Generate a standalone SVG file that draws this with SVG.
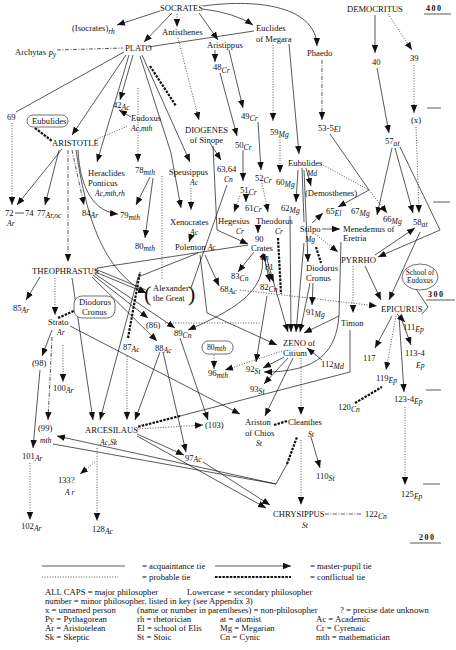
<svg xmlns="http://www.w3.org/2000/svg" width="456" height="650" viewBox="0 0 456 650">
<style>
text{font-family:"Liberation Serif","Times New Roman",serif;font-size:8.6px;fill:#111}
.i{font-style:italic;font-size:7.6px}
.lg{font-size:8.7px}
.b{font-weight:bold;letter-spacing:1.5px;font-size:8px}
.e{fill:none;stroke:#111;stroke-width:0.7}
.dot{stroke-dasharray:1 1.6}
.dd{stroke-dasharray:4 1.5 1 1.5}
.cf{stroke-width:2.2;stroke-dasharray:2.5 1.2}
.a{marker-end:url(#ah)}
.box{fill:#fff;stroke:#111;stroke-width:0.6}
</style>
<defs>
<marker id="ah" markerUnits="userSpaceOnUse" markerWidth="9" markerHeight="7" refX="8" refY="3.25" orient="auto"><path d="M0,0 L8,3.25 L0,6.5 z" fill="#111"/></marker>
</defs>
<rect width="456" height="650" fill="#fff"/>
<g id="edges">
<line class="e a" x1="160" y1="11" x2="117" y2="25"/>
<line class="e a" x1="172" y1="13" x2="144" y2="42"/>
<line class="e dot a" x1="177" y1="14" x2="177" y2="27"/>
<path class="e a" d="M203,9 Q235,13 253,25"/>
<path class="e a" d="M203,6 C262,-2 316,8 317,46"/>
<line class="e a" x1="199" y1="13" x2="218" y2="40"/>
<line class="e" x1="148" y1="47" x2="254" y2="31"/>
<line class="e dd" x1="57" y1="50" x2="123" y2="48"/>
<line class="e" x1="124" y1="52" x2="16" y2="112"/>
<line class="e a" x1="126" y1="55" x2="72" y2="135"/>
<line class="e a" x1="133" y1="55" x2="120" y2="100"/>
<line class="e a" x1="131" y1="117" x2="119" y2="110"/>
<line class="e a" x1="129" y1="55" x2="97" y2="162"/>
<line class="e cf" x1="150" y1="66" x2="176" y2="106"/>
<line class="e a" x1="142" y1="55" x2="190" y2="162"/>
<path class="e a" d="M140,56 L171,153 L181,208"/>
<line class="e dot a" x1="191" y1="188" x2="191" y2="210"/>
<line class="e a" x1="191" y1="236" x2="189" y2="242"/>
<line class="e dot a" x1="178" y1="38" x2="199" y2="120"/>
<line class="e a" x1="210" y1="143" x2="221" y2="160"/>
<path class="e a" d="M213,146 L217,230 L248,244"/>
<line class="e" x1="227" y1="185" x2="191" y2="288"/>
<line class="e dot a" x1="138" y1="88" x2="138" y2="162"/>
<line class="e dot" x1="162" y1="176" x2="162" y2="280"/>
<line class="e dot" x1="95" y1="140" x2="128" y2="126"/>
<line class="e cf" x1="35" y1="128" x2="52" y2="141"/>
<line class="e dot a" x1="12" y1="123" x2="12" y2="205"/>
<line class="e a" x1="62" y1="149" x2="17" y2="205"/>
<line class="e a" x1="59" y1="150" x2="45" y2="205"/>
<line class="e dd a" x1="72" y1="150" x2="84" y2="205"/>
<path class="e a" d="M78,150 C80,190 95,212 118,214"/>
<line class="e dd a" x1="68" y1="150" x2="68" y2="262"/>
<path class="e a" d="M76,150 C88,230 108,272 146,293"/>
<line class="e a" x1="150" y1="177" x2="136" y2="205"/>
<line class="e a" x1="153" y1="178" x2="145" y2="238"/>
<line class="e a" x1="40" y1="277" x2="26" y2="300"/>
<line class="e dot a" x1="55" y1="278" x2="55" y2="315"/>
<line class="e a" x1="93" y1="275" x2="148" y2="318"/>
<line class="e a" x1="92" y1="277" x2="157" y2="341"/>
<line class="e a" x1="95" y1="274" x2="175" y2="328"/>
<line class="e a" x1="95" y1="272" x2="146" y2="293"/>
<line class="e" x1="95" y1="269" x2="146" y2="290"/>
<line class="e" x1="97" y1="268" x2="248" y2="245"/>
<line class="e a" x1="72" y1="278" x2="93" y2="420"/>
<path class="e a" d="M198,253 L138,277 L100,420"/>
<line class="e cf" x1="128" y1="338" x2="140" y2="272"/>
<line class="e dot a" x1="127" y1="356" x2="127" y2="420"/>
<line class="e a" x1="160" y1="352" x2="135" y2="420"/>
<line class="e a" x1="163" y1="352" x2="186" y2="452"/>
<line class="e a" x1="180" y1="338" x2="208" y2="420"/>
<path class="e a" d="M262,255 C268,292 230,312 188,330"/>
<path class="e a" d="M200,255 L207,313 L277,345"/>
<line class="e a" x1="205" y1="255" x2="219" y2="286"/>
<line class="e a" x1="254" y1="252" x2="238" y2="272"/>
<line class="e a" x1="262" y1="254" x2="266" y2="262"/>
<line class="e a" x1="263" y1="253" x2="270" y2="282"/>
<line class="e a" x1="268" y1="270" x2="274" y2="282"/>
<line class="e a" x1="266" y1="256" x2="288" y2="332"/>
<line class="e dot" x1="165" y1="323" x2="260" y2="323"/>
<line class="e a" x1="289" y1="44" x2="299" y2="154"/>
<line class="e" x1="302" y1="168" x2="304" y2="222"/>
<line class="e a" x1="298" y1="170" x2="296" y2="202"/>
<line class="e a" x1="304" y1="170" x2="308" y2="262"/>
<line class="e a" x1="306" y1="168" x2="311" y2="186"/>
<line class="e dot" x1="321" y1="164" x2="369" y2="190"/>
<line class="e" x1="330" y1="134" x2="369" y2="190"/>
<line class="e a" x1="369" y1="190" x2="338" y2="207"/>
<line class="e dot a" x1="369" y1="190" x2="387" y2="213"/>
<line class="e a" x1="392" y1="148" x2="377" y2="215"/>
<line class="e a" x1="322" y1="229" x2="340" y2="229"/>
<line class="e a" x1="312" y1="223" x2="323" y2="213"/>
<line class="e dot a" x1="315" y1="234" x2="338" y2="252"/>
<line class="e a" x1="304" y1="243" x2="296" y2="332"/>
<line class="e cf" x1="316" y1="247" x2="321" y2="263"/>
<line class="e a" x1="313" y1="283" x2="312" y2="305"/>
<line class="e a" x1="310" y1="283" x2="300" y2="332"/>
<line class="e a" x1="290" y1="216" x2="291" y2="332"/>
<line class="e cf" x1="278" y1="238" x2="281" y2="294"/>
<path class="e a" d="M341,242 L339,316 L304,333"/>
<path class="e a" d="M339,316 C336,352 318,372 264,372"/>
<line class="e dot a" x1="353" y1="266" x2="353" y2="313"/>
<line class="e a" x1="322" y1="360" x2="307" y2="348"/>
<line class="e a" x1="284" y1="357" x2="263" y2="368"/>
<line class="e a" x1="267" y1="296" x2="256" y2="362"/>
<line class="e a" x1="288" y1="358" x2="264" y2="384"/>
<line class="e a" x1="293" y1="358" x2="265" y2="416"/>
<line class="e dot a" x1="301" y1="358" x2="301" y2="415"/>
<line class="e dot a" x1="282" y1="351" x2="225" y2="370"/>
<line class="e a" x1="70" y1="326" x2="240" y2="414"/>
<path class="e" d="M350,330 L350,372 L180,416"/>
<line class="e cf" x1="180" y1="416" x2="137" y2="427"/>
<line class="e dot a" x1="137" y1="429" x2="203" y2="425"/>
<line class="e a" x1="137" y1="434" x2="184" y2="455"/>
<line class="e a" x1="137" y1="436" x2="266" y2="508"/>
<line class="e a" x1="203" y1="462" x2="270" y2="505"/>
<line class="e" x1="53" y1="444" x2="276" y2="484"/>
<line class="e a" x1="276" y1="484" x2="57" y2="436"/>
<line class="e" x1="276" y1="484" x2="287" y2="464"/>
<line class="e cf" x1="287" y1="464" x2="297" y2="437"/>
<line class="e dot a" x1="97" y1="448" x2="97" y2="521"/>
<line class="e dot a" x1="95" y1="462" x2="80" y2="474"/>
<line class="e a" x1="52" y1="330" x2="42" y2="356"/>
<line class="e dot a" x1="63" y1="345" x2="63" y2="382"/>
<line class="e dd a" x1="52" y1="337" x2="48" y2="420"/>
<line class="e a" x1="40" y1="370" x2="33" y2="448"/>
<line class="e dot a" x1="30" y1="463" x2="30" y2="520"/>
<line class="e cf" x1="58" y1="318" x2="78" y2="309"/>
<line class="e dot a" x1="214" y1="355" x2="214" y2="369"/>
<line class="e a" x1="420" y1="232" x2="389" y2="300"/>
<line class="e a" x1="365" y1="266" x2="381" y2="300"/>
<line class="e a" x1="375" y1="255" x2="415" y2="228"/>
<path class="e a" d="M400,147 L440,230 L378,257"/>
<line class="e a" x1="395" y1="148" x2="413" y2="213"/>
<line class="e dot a" x1="416" y1="127" x2="419" y2="213"/>
<path class="e" d="M416,289 L428,307 L422,314"/>
<line class="e dot a" x1="240" y1="290" x2="377" y2="306"/>
<line class="e a" x1="397" y1="314" x2="405" y2="322"/>
<line class="e a" x1="392" y1="316" x2="375" y2="348"/>
<line class="e dot a" x1="396" y1="316" x2="386" y2="370"/>
<line class="e a" x1="400" y1="315" x2="411" y2="345"/>
<line class="e a" x1="399" y1="316" x2="404" y2="392"/>
<line class="e dot a" x1="405" y1="407" x2="405" y2="485"/>
<line class="e cf" x1="355" y1="403" x2="382" y2="387"/>
<line class="e a" x1="311" y1="437" x2="320" y2="468"/>
<line class="e dot a" x1="301" y1="440" x2="301" y2="505"/>
<line class="e dd" x1="325" y1="514" x2="362" y2="514"/>
<line class="e cf" x1="274" y1="425" x2="287" y2="421"/>
<line class="e a" x1="377" y1="68" x2="389" y2="133"/>
<line class="e a" x1="375" y1="15" x2="375" y2="53"/>
<line class="e dot a" x1="388" y1="14" x2="412" y2="50"/>
<line class="e dot a" x1="414" y1="65" x2="414" y2="113"/>
<line class="e dd a" x1="322" y1="60" x2="322" y2="120"/>
<line class="e dot a" x1="273" y1="45" x2="273" y2="121"/>
<line class="e a" x1="215" y1="50" x2="215" y2="62"/>
<line class="e a" x1="229" y1="50" x2="243" y2="108"/>
<line class="e a" x1="220" y1="73" x2="237" y2="136"/>
<line class="e a" x1="258" y1="122" x2="261" y2="170"/>
<line class="e a" x1="243" y1="150" x2="243" y2="181"/>
<line class="e dot a" x1="280" y1="137" x2="280" y2="173"/>
<line class="e a" x1="246" y1="196" x2="246" y2="202"/>
<line class="e dot a" x1="240" y1="196" x2="234" y2="212"/>
<line class="e dot a" x1="262" y1="183" x2="268" y2="212"/>
<line class="e a" x1="258" y1="225" x2="258" y2="233"/>
<line class="e" x1="15" y1="213" x2="24" y2="213"/>
</g>
<g id="scale">
<text class="b" x="426" y="11">400</text><line class="e" x1="424" y1="14" x2="451" y2="14"/>
<text class="b" x="428" y="297">300</text><line class="e" x1="426" y1="300" x2="455" y2="300"/>
<text class="b" x="419" y="540">200</text><line class="e" x1="410" y1="543" x2="441" y2="543"/>
<line class="e" x1="427" y1="108" x2="441" y2="108"/>
<line class="e" x1="433" y1="202" x2="450" y2="202"/>
<line class="e" x1="426" y1="390" x2="441" y2="390"/>
<line class="e" x1="423" y1="484" x2="440" y2="484"/>
</g>
<g id="n-socrates"><text x="160" y="11">SOCRATES</text></g>
<g id="n-isocrates"><text x="72" y="31">(Isocrates)<tspan class="i" dy="2.5">rh</tspan></text></g>
<g id="n-antisthenes"><text x="162" y="35">Antisthenes</text></g>
<g id="n-euclides"><text x="256" y="31">Euclides</text><text x="256" y="42">of Megara</text></g>
<g id="n-aristippus"><text x="207" y="48">Aristippus</text></g>
<g id="n-phaedo"><text x="307" y="56">Phaedo</text></g>
<g id="n-democritus"><text x="347" y="12">DEMOCRITUS</text></g>
<g id="n-archytas"><text x="15" y="55">Archytas <tspan class="i" dy="1.5">Py</tspan></text></g>
<g id="n-plato"><text x="125" y="51">PLATO</text></g>
<g id="n-48"><text x="213" y="70">48<tspan class="i" dy="2.5">Cr</tspan></text></g>
<g id="n-69"><text x="7" y="120">69</text></g>
<g id="n-42"><text x="113" y="108">42<tspan class="i" dy="1.5">Ac</tspan></text></g>
<g id="n-eudoxus"><text x="131" y="121">Eudoxus</text><text class="i" x="131" y="131">Ac,mth</text></g>
<g id="n-eubulides-box"><rect class="box" x="27" y="115" width="41" height="12" rx="6"/><text x="32" y="124">Eubulides</text></g>
<g id="n-aristotle"><text x="52" y="146">ARISTOTLE</text></g>
<g id="n-diogenes"><text x="185" y="133">DIOGENES</text><text x="190" y="143">of Sinope</text></g>
<g id="n-40"><text x="372" y="65">40</text></g>
<g id="n-39"><text x="410" y="61">39</text></g>
<g id="n-x"><text x="411" y="123">(x)</text></g>
<g id="n-53"><text x="318" y="131">53-5<tspan class="i" dy="1">El</tspan></text></g>
<g id="n-57"><text x="385" y="144">57<tspan class="i" dy="1.5">at</tspan></text></g>
<g id="n-49"><text x="241" y="119">49<tspan class="i" dy="2">Cr</tspan></text></g>
<g id="n-59"><text x="270" y="135">59<tspan class="i" dy="2">Mg</tspan></text></g>
<g id="n-50"><text x="235" y="148">50<tspan class="i" dy="2">Cr</tspan></text></g>
<g id="n-heraclides"><text x="88" y="176">Heraclides</text><text x="88" y="186">Ponticus</text><text class="i" x="95" y="196">Ac,mth,rh</text></g>
<g id="n-78"><text x="135" y="173">78<tspan class="i" dy="2">mth</tspan></text></g>
<g id="n-speusippus"><text x="169" y="175">Speusippus</text><text class="i" x="190" y="185">Ac</text></g>
<g id="n-6364"><text x="217" y="172">63,64</text><text class="i" x="224" y="182">Cn</text></g>
<g id="n-eubulides"><text x="288" y="166">Eubulides</text><text class="i" x="307" y="176">Md</text></g>
<g id="n-52"><text x="255" y="181">52<tspan class="i" dy="2">Cr</tspan></text></g>
<g id="n-60"><text x="276" y="185">60<tspan class="i" dy="2">Mg</tspan></text></g>
<g id="n-51"><text x="240" y="193">51<tspan class="i" dy="2">Cr</tspan></text></g>
<g id="n-demosthenes"><text x="305" y="196">(Demosthenes)</text></g>
<g id="n-61"><text x="245" y="211">61<tspan class="i" dy="1">Cr</tspan></text></g>
<g id="n-62"><text x="281" y="211">62<tspan class="i" dy="2">Mg</tspan></text></g>
<g id="n-65"><text x="326" y="214">65<tspan class="i" dy="2">El</tspan></text></g>
<g id="n-67"><text x="351" y="214">67<tspan class="i" dy="2">Mg</tspan></text></g>
<g id="n-66"><text x="383" y="222">66<tspan class="i" dy="2">Mg</tspan></text></g>
<g id="n-58"><text x="413" y="225">58<tspan class="i" dy="2">at</tspan></text></g>
<g id="n-7274"><text x="5" y="216">72</text><text x="25" y="216">74</text><text class="i" x="7" y="226">Ar</text></g>
<g id="n-77"><text x="37" y="216">77<tspan class="i" dy="1.5">Ar,oc</tspan></text></g>
<g id="n-84"><text x="82" y="216">84<tspan class="i" dy="1.5">Ar</tspan></text></g>
<g id="n-79"><text x="120" y="218">79<tspan class="i" dy="1.5">mth</tspan></text></g>
<g id="n-xenocrates"><text x="170" y="225">Xenocrates</text><text class="i" x="190" y="235">Ac</text></g>
<g id="n-hegesius"><text x="218" y="224">Hegesius</text><text class="i" x="236" y="234">Cr</text></g>
<g id="n-theodorus"><text x="256" y="224">Theodorus</text><text class="i" x="275" y="234">Cr</text></g>
<g id="n-stilpo"><text x="300" y="232">Stilpo</text><text class="i" x="305" y="242">Mg</text></g>
<g id="n-menedemus"><text x="343" y="232">Menedemus of</text><text x="343" y="241">Eretria</text></g>
<g id="n-crates"><text x="255" y="242">90</text><text x="251" y="251">Crates</text><text class="i" x="260" y="260">Cn</text></g>
<g id="n-80"><text x="135" y="249">80<tspan class="i" dy="1.5">mth</tspan></text></g>
<g id="n-polemon"><text x="175" y="250">Polemon <tspan class="i">Ac</tspan></text></g>
<g id="n-pyrrho"><text x="341" y="263">PYRRHO</text></g>
<g id="n-81"><text x="265" y="270">81</text></g>
<g id="n-theophrastus"><text x="32" y="274">THEOPHRASTUS</text></g>
<g id="n-83"><text x="231" y="279">83<tspan class="i" dy="1.5">Cn</tspan></text></g>
<g id="n-diodorus"><text x="306" y="271">Diodorus</text><text x="306" y="281">Cronus</text></g>
<g id="n-school"><ellipse class="box" cx="420" cy="277" rx="18" ry="13"/><text x="420" y="275" text-anchor="middle" style="font-size:7.4px">School of</text><text x="420" y="283" text-anchor="middle" style="font-size:7.4px">Eudoxus</text></g>
<g id="n-alexander"><text x="144" y="301" style="font-size:22px;font-weight:100">(</text><text x="153" y="291">Alexander</text><text x="153" y="301">the Great</text><text x="188" y="301" style="font-size:22px;font-weight:100">)</text></g>
<g id="n-68"><text x="220" y="292">68<tspan class="i" dy="2">Ac</tspan></text></g>
<g id="n-82"><text x="260" y="290">82<tspan class="i" dy="2">Cn</tspan></text></g>
<g id="n-85"><text x="13" y="311">85<tspan class="i" dy="1.5">Ar</tspan></text></g>
<g id="n-diodorus-box"><rect class="box" x="74" y="296" width="41" height="22" rx="8"/><text x="79" y="305">Diodorus</text><text x="82" y="315">Cronus</text></g>
<g id="n-epicurus"><text x="381" y="312">EPICURUS</text></g>
<g id="n-91"><text x="306" y="315">91<tspan class="i" dy="2">Mg</tspan></text></g>
<g id="n-strato"><text x="48" y="325">Strato</text><text class="i" x="57" y="335">Ar</text></g>
<g id="n-86"><text x="146" y="328">(86)</text></g>
<g id="n-timon"><text x="341" y="326">Timon</text></g>
<g id="n-111"><text x="403" y="330">111<tspan class="i" dy="2">Ep</tspan></text></g>
<g id="n-89"><text x="174" y="336">89<tspan class="i" dy="2">Cn</tspan></text></g>
<g id="n-zeno"><text x="283" y="346">ZENO of</text><text x="283" y="356">Citium</text></g>
<g id="n-87"><text x="123" y="350">87<tspan class="i" dy="1.5">Ac</tspan></text></g>
<g id="n-88"><text x="155" y="351">88<tspan class="i" dy="1.5">Ac</tspan></text></g>
<g id="n-80box"><rect class="box" x="202" y="341" width="31" height="13" rx="6"/><text x="207" y="350" style="font-size:7.6px">80<tspan class="i" dy="1">mth</tspan></text></g>
<g id="n-1134"><text x="405" y="356">113-4</text><text class="i" x="416" y="368">Ep</text></g>
<g id="n-117"><text x="363" y="361">117</text></g>
<g id="n-98"><text x="32" y="366">(98)</text></g>
<g id="n-112"><text x="321" y="367">112<tspan class="i" dy="2">Md</tspan></text></g>
<g id="n-92"><text x="246" y="372">92<tspan class="i" dy="2">St</tspan></text></g>
<g id="n-96"><text x="208" y="376">96<tspan class="i" dy="2">mth</tspan></text></g>
<g id="n-119"><text x="376" y="381">119<tspan class="i" dy="1.5">Ep</tspan></text></g>
<g id="n-100"><text x="53" y="391">100<tspan class="i" dy="2">Ar</tspan></text></g>
<g id="n-93"><text x="250" y="392">93<tspan class="i" dy="2">St</tspan></text></g>
<g id="n-1234"><text x="394" y="402">123-4<tspan class="i" dy="2">Ep</tspan></text></g>
<g id="n-120"><text x="338" y="410">120<tspan class="i" dy="2">Cn</tspan></text></g>
<g id="n-ariston"><text x="245" y="425">Ariston</text><text x="245" y="436">of Chios</text><text class="i" x="256" y="446">St</text></g>
<g id="n-cleanthes"><text x="288" y="425">Cleanthes</text><text class="i" x="308" y="437">St</text></g>
<g id="n-103"><text x="205" y="428">(103)</text></g>
<g id="n-99"><text x="38" y="431">(99)</text><text class="i" x="40" y="443">mth</text></g>
<g id="n-arcesilaus"><text x="85" y="433">ARCESILAUS</text><text class="i" x="100" y="445">Ac,Sk</text></g>
<g id="n-101"><text x="22" y="459">101<tspan class="i" dy="1.5">Ar</tspan></text></g>
<g id="n-97"><text x="185" y="461">97<tspan class="i" dy="1">Ac</tspan></text></g>
<g id="n-110"><text x="316" y="479">110<tspan class="i" dy="2">St</tspan></text></g>
<g id="n-133"><text x="58" y="483">133?</text><text class="i" x="65" y="495">A r</text></g>
<g id="n-125"><text x="401" y="497">125<tspan class="i" dy="2">Ep</tspan></text></g>
<g id="n-chrysippus"><text x="273" y="517">CHRYSIPPUS</text><text class="i" x="302" y="528">St</text></g>
<g id="n-122"><text x="365" y="517">122<tspan class="i" dy="1.5">Cn</tspan></text></g>
<g id="n-102"><text x="21" y="529">102<tspan class="i" dy="2">Ar</tspan></text></g>
<g id="n-128"><text x="92" y="532">128<tspan class="i" dy="2">Ac</tspan></text></g>
<g id="legend">
<line class="e" x1="42" y1="566" x2="125" y2="566"/>
<text class="lg" x="142" y="569">= acquaintance tie</text>
<line class="e a" x1="215" y1="566" x2="291" y2="566"/>
<text class="lg" x="310" y="569">= master-pupil tie</text>
<line class="e dot" x1="42" y1="577" x2="118" y2="577"/>
<text class="lg" x="142" y="580">= probable tie</text>
<line class="e cf" x1="215" y1="577" x2="291" y2="577"/>
<text class="lg" x="310" y="580">= conflictual tie</text>
<text class="lg" x="45" y="595">ALL CAPS  = major philosopher</text>
<text class="lg" x="187" y="595">Lowercase  = secondary philosopher</text>
<text class="lg" x="45" y="604">number = minor philosopher, listed in key (see Appendix 3)</text>
<text class="lg" x="45" y="613">x = unnamed person</text>
<text class="lg" x="137" y="613">(name or number in parentheses) = non-philosopher</text>
<text class="lg" x="340" y="613">? =  precise date unknown</text>
<text class="lg" x="45" y="622">Py = Pythagorean</text>
<text class="lg" x="137" y="622">rh = rhetorician</text>
<text class="lg" x="220" y="622">at = atomist</text>
<text class="lg" x="316" y="622">Ac = Academic</text>
<text class="lg" x="45" y="631">Ar = Aristotelean</text>
<text class="lg" x="137" y="631">El = school of Elis</text>
<text class="lg" x="220" y="631">Mg = Megarian</text>
<text class="lg" x="316" y="631">Cr = Cyrenaic</text>
<text class="lg" x="45" y="640">Sk = Skeptic</text>
<text class="lg" x="137" y="640">St = Stoic</text>
<text class="lg" x="220" y="640">Cn = Cynic</text>
<text class="lg" x="316" y="640">mth = mathematician</text>
</g>
</svg>
